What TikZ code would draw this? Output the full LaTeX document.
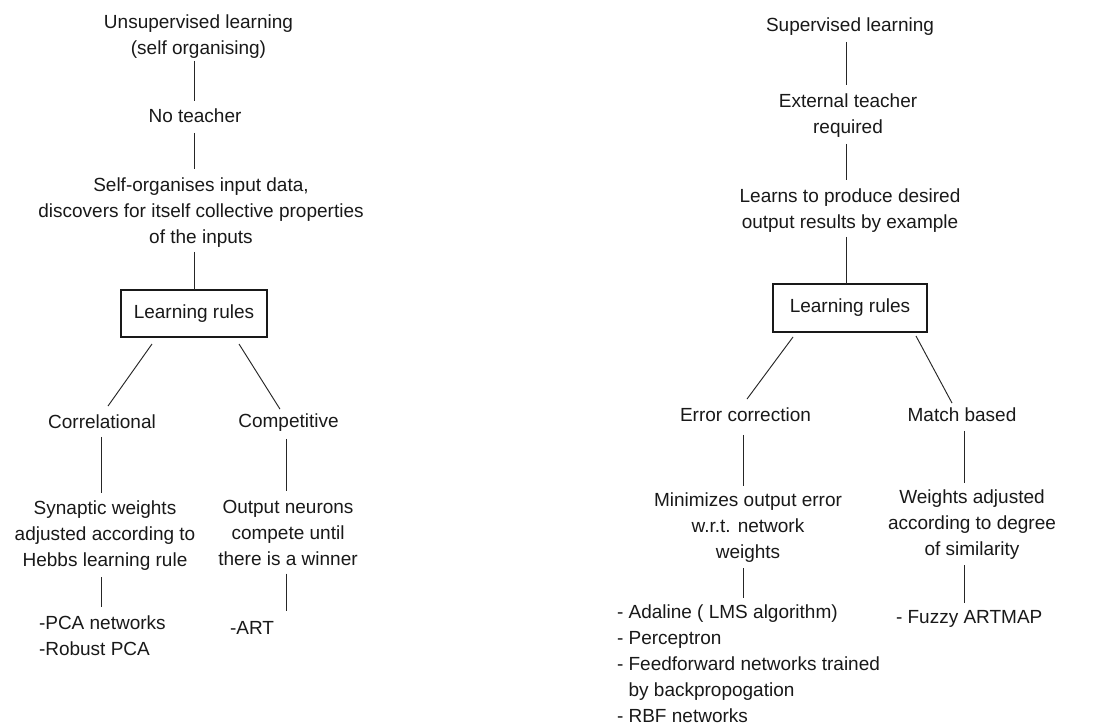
\documentclass[tikz,border=0pt]{standalone}
\usepackage{fontspec}
\setmainfont{Liberation Sans}
\usetikzlibrary{calc}
\begin{document}
\begin{tikzpicture}[x=0.75pt,y=-0.75pt,
  every node/.style={font=\fontsize{14.25}{19.5}\selectfont, text=black!90, inner sep=0pt, outer sep=0pt},
  txt/.style={align=center},
  lst/.style={align=left, anchor=west},
  rulebox/.style={draw=black!90, line width=1pt},
  conn/.style={draw=black!85, line width=0.7pt}]
\useasboundingbox[fill=white] (0,0) rectangle (1095,725);
% ---------------- left tree ----------------
\coordinate (L) at (194,0);
\coordinate (LA) at (101,0);
\coordinate (LB) at (286,0);
\node[txt] (u1) at (198.5,37) {Unsupervised learning\\(self organising)};
\node[txt] (u2) at (195,116) {No teacher};
\node[txt] (u3) at (201,213) {Self-organises input data,\\discovers for itself collective properties\\of the inputs};
\node[rulebox, minimum width=109.5pt, minimum height=35.25pt] (ub) at (194,313.5) {Learning rules};
\node[txt] (u4) at (102,422) {Correlational};
\node[txt] (u5) at (288.5,423) {Competitive};
\node[txt] (u6) at (105,535.5) {Synaptic weights\\adjusted according to\\Hebbs learning rule};
\node[txt] (u7) at (288,533) {Output neurons\\compete until\\there is a winner};
\node[lst] (u8) at (39,635.5) {-PCA networks\\-Robust PCA};
\node[lst] (u9) at (230,628) {-ART};
\draw[conn, shorten <=1.5pt, shorten >=6pt] (u1.south -| L) -- (u2.north -| L);
\draw[conn, shorten <=7.5pt, shorten >=6.75pt] (u2.south -| L) -- (u3.north -| L);
\draw[conn, shorten <=3pt] (u3.south -| L) -- (ub.north -| L);
\draw[conn] ($(ub.south)+(-42,7)$) -- ($(u4.north)+(6,-9)$);
\draw[conn] ($(ub.south)+(45,7)$) -- ($(u5.north)+(-8.5,-5)$);
\draw[conn, shorten <=6pt, shorten >=6pt] (u4.south -| LA) -- (u6.north -| LA);
\draw[conn, shorten <=5.25pt, shorten >=6.75pt] (u6.south -| LA) -- (u8.north -| LA);
\draw[conn, shorten <=5.25pt, shorten >=6.75pt] (u5.south -| LB) -- (u7.north -| LB);
\draw[conn, shorten <=6pt, shorten >=7.5pt] (u7.south -| LB) -- (u9.north -| LB);
% ---------------- right tree ----------------
\coordinate (R) at (846,0);
\coordinate (RA) at (743,0);
\coordinate (RB) at (964,0);
\node[txt] (s1) at (850,26.5) {Supervised learning};
\node[txt] (s2) at (848,116) {External teacher\\required};
\node[txt] (s3) at (850,211) {Learns to produce desired\\output results by example};
\node[rulebox, minimum width=115.5pt, minimum height=36pt] (sb) at (850,308) {Learning rules};
\node[txt] (s4) at (745.5,415) {Error correction};
\node[txt] (s5) at (962,415) {Match based};
\node[txt] (s6) at (748,528) {Minimizes output error\\w.r.t. network\\weights};
\node[txt] (s7) at (972,525) {Weights adjusted\\according to degree\\of similarity};
\node[lst] (s8) at (617,664) {- Adaline ( LMS algorithm)\\- Perceptron\\- Feedforward networks trained\\\phantom{- }by backpropogation\\- RBF networks};
\node[lst] (s9) at (896,619) {- Fuzzy ARTMAP};
\draw[conn, shorten <=4.875pt, shorten >=6.75pt] (s1.south -| R) -- (s2.north -| R);
\draw[conn, shorten <=4.5pt, shorten >=6.75pt] (s2.south -| R) -- (s3.north -| R);
\draw[conn, shorten <=3pt] (s3.south -| R) -- (sb.north -| R);
\draw[conn] ($(sb.south)+(-57,5)$) -- ($(s4.north)+(1.5,-9)$);
\draw[conn] ($(sb.south)+(66,4)$) -- ($(s5.north)+(-10,-5)$);
\draw[conn, shorten <=9.75pt, shorten >=5.625pt] (s4.south -| RA) -- (s6.north -| RA);
\draw[conn, shorten <=4.125pt, shorten >=5.25pt] (s6.south -| RA) -- (s8.north -| RA);
\draw[conn, shorten <=6.75pt, shorten >=5.625pt] (s5.south -| RB) -- (s7.north -| RB);
\draw[conn, shorten <=4.125pt, shorten >=6pt] (s7.south -| RB) -- (s9.north -| RB);
\end{tikzpicture}
\end{document}
